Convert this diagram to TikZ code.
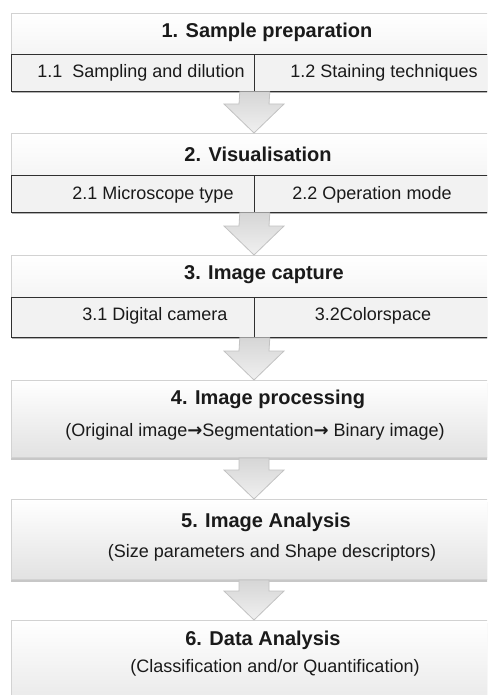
\documentclass[tikz,border=0pt]{standalone}
\usepackage{fontspec}
\setmainfont{Liberation Sans}
\newfontfamily\arrowfont{DejaVu Sans}
\usetikzlibrary{calc,shadows}
\definecolor{hdrborder}{HTML}{D2D2D2}
\definecolor{subfill}{HTML}{F2F2F2}
\definecolor{subborder}{HTML}{303030}
\definecolor{boxbot}{HTML}{E2E2E2}
\definecolor{arrfillA}{HTML}{D6D6D6}
\definecolor{arrfillB}{HTML}{F0F0F0}
\definecolor{arrborder}{HTML}{C2C2C2}
\definecolor{txt}{HTML}{1A1A1A}
\tikzset{
  hdrbox/.style={rectangle, draw=hdrborder, line width=1pt, top color=white, bottom color=white!96!black,
    anchor=north west, inner sep=0pt, minimum width=540pt},
  subcell/.style={rectangle, draw=subborder, line width=0.8pt, fill=subfill, anchor=north west, inner sep=0pt,
    drop shadow={shadow xshift=0.5pt, shadow yshift=-2pt, opacity=0.3, fill=black}},
  bigbox/.style={rectangle, draw=hdrborder, line width=1pt, top color=white, bottom color=boxbot,
    anchor=north west, inner sep=0pt, minimum width=540pt,
    drop shadow={shadow xshift=-1pt, shadow yshift=-2pt, opacity=0.22, fill=black}},
  titletxt/.style={font=\fontsize{20}{24}\selectfont\bfseries, text=txt, inner sep=0pt},
  subtxt/.style={font=\fontsize{18}{22}\selectfont, text=txt, inner sep=0pt},
  blockarr/.style={draw=arrborder, line width=0.8pt, top color=arrfillA, bottom color=arrfillB, line join=miter}
}
\newcommand\myblockarrow[2]{%
  \path[blockarr] ($(#1)+(-15,0)$) -- ($(#2)+(-15,-29)$) -- ($(#2)+(-30,-29)$) -- (#2)
    -- ($(#2)+(30,-29)$) -- ($(#2)+(15,-29)$) -- ($(#1)+(15,0)$) -- cycle;}
\newcommand\rarr{{\arrowfont\bfseries →}}
\begin{document}
\begin{tikzpicture}[x=1pt,y=-1pt]
\useasboundingbox (0,0) rectangle (487,695);
\fill[white] (0,0) rectangle (487,695);
\clip (0,0) rectangle (487,695);
\coordinate (axis) at (254,0);

% Box 1
\node[hdrbox, minimum height=41pt] (b1) at (11,13) {};
\node[subcell, minimum width=243pt, minimum height=37pt] (c11) at (11,54) {};
\node[subcell, minimum width=290pt, minimum height=37pt] (c12) at (254,54) {};
\node[titletxt] (t1) at (267,32) {1. Sample preparation};
\node[subtxt] (s11) at (141,73) {1.1\ \ Sampling and dilution};
\node[subtxt] (s12) at (384,73) {1.2 Staining techniques};

% Box 2
\node[hdrbox, minimum height=42pt] (b2) at (11,133) {};
\node[subcell, minimum width=243pt, minimum height=37pt] (c21) at (11,175) {};
\node[subcell, minimum width=290pt, minimum height=37pt] (c22) at (254,175) {};
\node[titletxt] (t2) at (258,154) {2. Visualisation};
\node[subtxt] (s21) at (153,195) {2.1 Microscope type};
\node[subtxt] (s22) at (372,195) {2.2 Operation mode};

% Box 3
\node[hdrbox, minimum height=42pt] (b3) at (11,255) {};
\node[subcell, minimum width=243pt, minimum height=40pt] (c31) at (11,297) {};
\node[subcell, minimum width=290pt, minimum height=40pt] (c32) at (254,297) {};
\node[titletxt] (t3) at (264,275) {3. Image capture};
\node[subtxt] (s31) at (155,316) {3.1 Digital camera};
\node[subtxt] (s32) at (373,316) {3.2Colorspace};

% Box 4
\node[bigbox, minimum height=77pt] (b4) at (11,380) {};
\node[titletxt] (t4) at (268,399) {4. Image processing};
\node[subtxt] (u4) at (255,432) {(Original image\rarr Segmentation\rarr\ Binary image)};

% Box 5
\node[bigbox, minimum height=80pt] (b5) at (11,499) {};
\node[titletxt] (t5) at (266,522) {5. Image Analysis};
\node[subtxt] (u5) at (272,553) {(Size parameters and Shape descriptors)};

% Box 6
\node[bigbox, minimum height=110pt] (b6) at (11,620) {};
\node[titletxt] (t6) at (263,640) {6. Data Analysis};
\node[subtxt] (u6) at (275,668) {(Classification and/or Quantification)};

% Arrows
\myblockarrow{c11.south east}{b2.north -| axis}
\myblockarrow{c21.south east}{b3.north -| axis}
\myblockarrow{c31.south east}{b4.north -| axis}
\myblockarrow{b4.south -| axis}{b5.north -| axis}
\myblockarrow{b5.south -| axis}{b6.north -| axis}
\end{tikzpicture}
\end{document}
